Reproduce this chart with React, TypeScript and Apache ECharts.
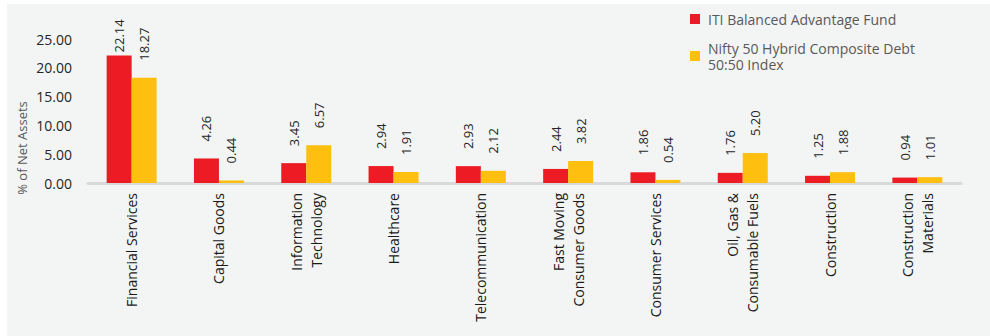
import React, { useEffect, useRef } from "react";
import * as echarts from "echarts";

const categories = [
  "Financial Services",
  "Capital Goods",
  "Information\nTechnology",
  "Healthcare",
  "Telecommunication",
  "Fast Moving\nConsumer Goods",
  "Consumer Services",
  "Oil, Gas &\nConsumable Fuels",
  "Construction",
  "Construction\nMaterials",
];
const fundValues = [22.14, 4.26, 3.45, 2.94, 2.93, 2.44, 1.86, 1.76, 1.25, 0.94];
const indexValues = [18.27, 0.44, 6.57, 1.91, 2.12, 3.82, 0.54, 5.2, 1.88, 1.01];
const seriesNames = ["ITI Balanced Advantage Fund", "Nifty 50 Hybrid Composite Debt\n50:50 Index"];
const yTicks = { min: 0, max: 25, interval: 5 };
const yAxisTitle = "% of Net Assets";

const FONT = "'Open Sans', 'Liberation Sans', sans-serif";

export default function App() {
  const ref = useRef<HTMLDivElement>(null);
  useEffect(() => {
    if (!ref.current) return;
    const chart = echarts.init(ref.current, undefined, { renderer: "svg" });
    const labelBase = {
      show: true,
      position: "top",
      rotate: 90,
      align: "left",
      verticalAlign: "middle",
      distance: 17,
      fontSize: 13,
      fontFamily: FONT,
      color: "#262626",
      formatter: (p: any) => Number(p.value).toFixed(2),
    };
    const mkData = (vals: number[]) =>
      vals.map((v) => (v > 20 ? { value: v, label: { distance: 3 } } : v));
    chart.setOption({
      animation: false,
      backgroundColor: "#ffffff",
      textStyle: { fontFamily: FONT },
      graphic: [
        {
          type: "rect",
          z: -100,
          silent: true,
          shape: { x: 7, y: 4, width: 990, height: 340 },
          style: { fill: "#f3f4f4" },
        },
        {
          type: "text",
          x: 22,
          y: 148,
          rotation: Math.PI / 2,
          style: {
            text: yAxisTitle,
            fontSize: 13,
            fontFamily: FONT,
            fill: "#595959",
            align: "center",
            verticalAlign: "middle",
          },
        },
      ],
      legend: [
        {
          left: 690,
          top: 11,
          padding: 0,
          itemWidth: 10,
          itemHeight: 10,
          icon: "rect",
          data: [{ name: seriesNames[0] }],
          textStyle: { fontSize: 14, fontFamily: FONT, color: "#595959", lineHeight: 16, padding: [0, 0, 0, 3] },
        },
        {
          left: 690,
          top: 30,
          padding: 0,
          itemWidth: 10,
          itemHeight: 10,
          icon: "rect",
          data: [{ name: seriesNames[1] }],
          textStyle: { fontSize: 14, fontFamily: FONT, color: "#595959", lineHeight: 16, padding: [20, 0, 0, 3] },
        },
      ],
      grid: { left: 88, right: 29, top: 39, bottom: 153, containLabel: false },
      xAxis: {
        type: "category",
        data: categories,
        axisTick: { show: false },
        axisLine: { lineStyle: { color: "#d9d9d9", width: 3 } },
        axisLabel: {
          rotate: 90,
          interval: 0,
          margin: 10,
          fontSize: 14,
          lineHeight: 20,
          fontFamily: FONT,
          color: "#1a1a1a",
        },
      },
      yAxis: {
        type: "value",
        min: yTicks.min,
        max: yTicks.max,
        interval: yTicks.interval,
        splitLine: { show: false },
        axisLine: { show: false },
        axisTick: { show: false },
        axisLabel: {
          margin: 16,
          fontSize: 14,
          fontFamily: FONT,
          color: "#262626",
          formatter: (v: number) => v.toFixed(2),
        },
      },
      series: [
        {
          name: seriesNames[0],
          type: "bar",
          barWidth: 25,
          barGap: "0%",
          itemStyle: { color: "#ed1c24" },
          label: labelBase,
          data: mkData(fundValues),
        },
        {
          name: seriesNames[1],
          type: "bar",
          barWidth: 25,
          barGap: "0%",
          itemStyle: { color: "#ffbf0f" },
          label: labelBase,
          data: mkData(indexValues),
        },
      ],
    });
    return () => chart.dispose();
  }, []);
  return (
    <div style={{ position: "absolute", left: 0, top: 0, width: 990, height: 336 }}>
      <div ref={ref} style={{ width: 990, height: 336 }} />
    </div>
  );
}
